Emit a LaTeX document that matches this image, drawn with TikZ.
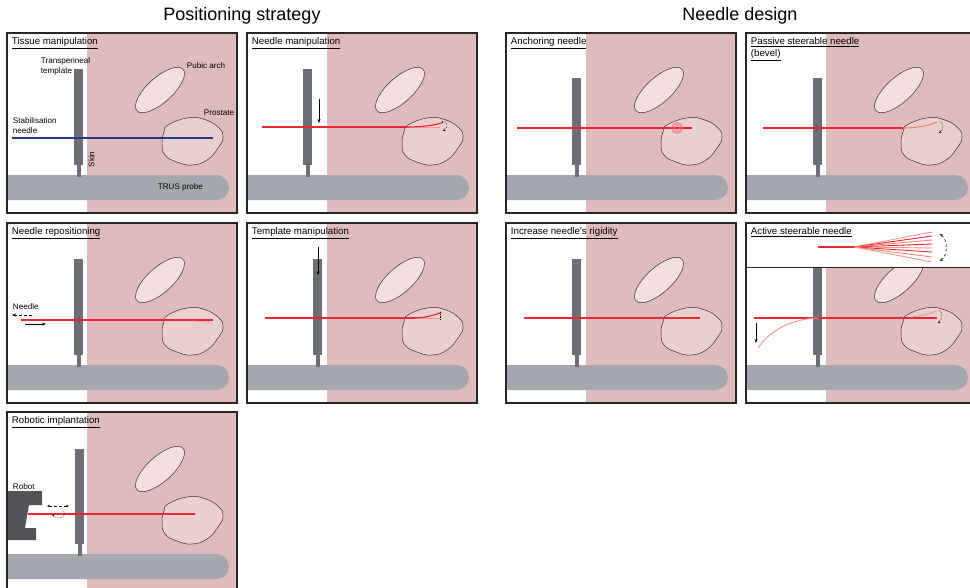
\documentclass[tikz,border=0pt]{standalone}
\usepackage{fontspec}
\setmainfont{Liberation Sans}
\usetikzlibrary{arrows.meta}

\definecolor{tissue}{RGB}{224,187,187}
\definecolor{prostpink}{RGB}{235,206,206}
\definecolor{archpink}{RGB}{243,223,223}
\definecolor{tplgrey}{RGB}{108,111,118}
\definecolor{probegrey}{RGB}{164,168,174}
\definecolor{robotgrey}{RGB}{82,82,88}
\definecolor{needlered}{RGB}{234,38,48}
\definecolor{needlelight}{RGB}{242,150,150}
\definecolor{bevelorange}{RGB}{242,135,105}
\definecolor{stabblue}{RGB}{38,56,140}

\tikzset{
  organ/.style={draw=black!80, line width=0.5pt},
  needle/.style={draw=needlered, line width=1.1pt},
  frame/.style={draw=black!85, line width=1.2pt},
  lbl/.style={font=\fontsize{8.1}{10}\selectfont, inner sep=0.75pt},
  paneltitle/.style={font=\fontsize{9.7}{11.5}\selectfont, inner sep=0.75pt, anchor=north west, align=left},
  heading/.style={font=\fontsize{18}{20}\selectfont, inner sep=0pt},
  motion/.style={draw=black, line width=0.6pt, -{Stealth[length=4pt,width=3pt]}},
  twist/.style={draw=black, line width=0.5pt, densely dotted, -{Stealth[length=2.5pt,width=2.2pt]}},
}

% tissue, organs, probe and template of one panel; #1,#2 = template corner
\newcommand{\scenebase}[2]{%
  \fill[tissue] (80,0) rectangle (230,180);
  \draw[organ, fill=archpink, rotate around={-42:(153,57)}] (153,57) ellipse [x radius=31, y radius=12.5];
  \draw[organ, fill=prostpink] plot[smooth cycle, tension=0.8] coordinates {(161,92) (180,85) (196,86) (211,94) (216,104) (211,115) (200,127) (185,132) (170,129) (158,122) (155,110) (157,99)};
  \fill[probegrey] (0,142) -- (209.5,142) arc[start angle=-90, end angle=90, radius=12.5] -- (0,167) -- cycle;
  \fill[tplgrey] (#1,#2) rectangle ({#1+9},132);
  \fill[tplgrey] ({#1+2.5},131) rectangle ({#1+6.5},144);
}

\begin{document}
\begin{tikzpicture}[x=1pt,y=1pt,yscale=-1,xscale=1]
\useasboundingbox (0,0) rectangle (970,587);
\clip (0,0) rectangle (970,587);

% Text Node
\draw (242,16) node [heading] (hpos) {Positioning strategy};
% Text Node
\draw (740,16) node [heading] (hdesign) {Needle design};

%Panel: tissue manipulation
\begin{scope}[shift={(7,33)}]
\scenebase{67}{36}
%Straight Lines
\draw [draw=stabblue, line width=1.3pt] (5,105) -- (206,105) ;
% Text Node
\draw (4,4) node [paneltitle] (tA) {\underline{Tissue manipulation}};
% Text Node
\draw (33,24) node [lbl, anchor=north west, align=left] (template) {Transperineal\\template};
% Text Node
\draw (179,33) node [lbl, anchor=west] (pubic) {Pubic arch};
% Text Node
\draw (196,80) node [lbl, anchor=west] (prostate) {Prostate};
% Text Node
\draw (5,84) node [lbl, anchor=north west, align=left] (stab) {Stabilisation\\needle};
% Text Node
\draw (84.5,126.5) node [lbl, rotate=90] (skin) {Skin};
% Text Node
\draw (150,154.5) node [lbl, anchor=west] (trus) {TRUS probe};
\draw [frame] (0,0) rectangle (230,180);
\end{scope}

%Panel: needle manipulation
\begin{scope}[shift={(247,33)}]
\scenebase{56}{36}
\draw [needle] (15,94) -- (160,94) ;
\draw [needle, draw=needlelight, line width=0.8pt] (160,94) -- (193,94) ;
\draw [needle] (158,94) .. controls (172,94) and (184,93) .. (195,90) ;
\fill (195.5,89) circle (0.9) ;
\draw [twist] (197,88) .. controls (201,91) and (201,95) .. (196,98) ;
\draw [motion] (72,66) -- (72,90) ;
% Text Node
\draw (4,4) node [paneltitle] (tB) {\underline{Needle manipulation}};
\draw [frame] (0,0) rectangle (230,180);
\end{scope}

%Panel: anchoring needle
\begin{scope}[shift={(506,33)}]
\scenebase{66}{45}
\draw [needle, line width=1.5pt] (11,95) -- (186,95) ;
\draw [draw=needlered!70, line width=0.5pt] (171,95) circle (5.5) circle (4) circle (2.5) ;
% Text Node
\draw (4,4) node [paneltitle] (tC) {\underline{Anchoring needle}};
\draw [frame] (0,0) rectangle (230,180);
\end{scope}

%Panel: passive steerable needle
\begin{scope}[shift={(746,33)}]
\scenebase{67}{45}
\draw [needle] (17,95) -- (159,95) ;
\draw [draw=bevelorange, line width=1.1pt] (157,95) .. controls (170,95) and (182,93) .. (191,89) ;
\draw [twist] (194,88) .. controls (198,91) and (198,96) .. (193,100) ;
% Text Node
\draw (4,4) node [paneltitle] (tD) {\underline{Passive steerable needle}\\\underline{(bevel)}};
\draw [frame] (0,0) rectangle (230,180);
\end{scope}

%Panel: needle repositioning
\begin{scope}[shift={(7,223)}]
\scenebase{67}{36}
\draw [needle] (14,97) -- (206,97) ;
\draw [draw=needlered!60, line width=0.8pt, densely dotted] (185,98) .. controls (193,98) and (200,99) .. (206,101) ;
\draw [motion, densely dashed] (25,92) -- (5,92) ;
\draw [motion] (18,101) -- (39,101) ;
% Text Node
\draw (5,84) node [lbl, anchor=west] (needleE) {Needle};
% Text Node
\draw (4,4) node [paneltitle] (tE) {\underline{Needle repositioning}};
\draw [frame] (0,0) rectangle (230,180);
\end{scope}

%Panel: template manipulation
\begin{scope}[shift={(247,223)}]
\scenebase{66}{36}
\draw [needle] (18,95) -- (170,95) ;
\draw [needle, draw=needlelight, line width=0.8pt] (168,95) -- (193,95) ;
\draw [needle] (165,95) .. controls (176,95) and (185,93) .. (193,90) ;
\fill (193.5,89.5) circle (0.9) ;
\draw [black, line width=0.5pt, densely dotted] (193.5,91) -- (193.5,97) ;
\draw [motion] (71,24) -- (71,52) ;
% Text Node
\draw (4,4) node [paneltitle] (tF) {\underline{Template manipulation}};
\draw [frame] (0,0) rectangle (230,180);
\end{scope}

%Panel: increase needle's rigidity
\begin{scope}[shift={(506,223)}]
\scenebase{66}{36}
\draw [needle, line width=2.2pt] (18,95) -- (194,95) ;
% Text Node
\draw (4,4) node [paneltitle] (tG) {\underline{Increase needle's rigidity}};
\draw [frame] (0,0) rectangle (230,180);
\end{scope}

%Panel: active steerable needle
\begin{scope}[shift={(746,223)}]
\scenebase{67}{36}
\draw [needle] (8,95) -- (191,95) ;
\draw [draw=needlelight, line width=0.9pt] (165,94) .. controls (175,93) and (183,91) .. (190,88) ;
\draw [twist] (193,87) .. controls (197,90) and (197,96) .. (192,100) ;
\draw [draw=needlelight, line width=1pt] (72,95) .. controls (42,96) and (22,110) .. (12,125) ;
\draw [motion] (10,100) -- (10,120) ;
%Shape: white strip with the tip sketch
\fill [white] (0,0) rectangle (230,44) ;
\draw [black!85, line width=1pt] (0,44) -- (230,44) ;
\draw [needle] (72,24) -- (122,24) ;
\foreach \ey/\col in {9/needlelight, 13/needlered, 17/bevelorange, 21/needlered, 25/needlelight, 29/needlered, 34/bevelorange, 39/needlelight}
  \draw [draw=\col, line width=0.9pt] (108,24) -- (186,\ey) ;
\draw [black, line width=0.5pt, densely dashed, {Stealth[length=3pt,width=2.5pt]}-{Stealth[length=3pt,width=2.5pt]}] (194,11) .. controls (202,17) and (202,32) .. (194,38) ;
% Text Node
\draw (4,4) node [paneltitle] (tH) {\underline{Active steerable needle}};
\draw [frame] (0,0) rectangle (230,180);
\end{scope}

%Panel: robotic implantation
\begin{scope}[shift={(7,412)}]
\scenebase{68}{37}
%Shape: robot arm
\fill [robotgrey] (1,79) -- (35,79) -- (35,93) -- (22,93) -- (18,116) -- (29,116) -- (29,128) -- (1,128) -- cycle ;
\draw [needle, line width=1.4pt] (21,102) -- (188,102) ;
\draw [black, line width=0.5pt, densely dashed, {Stealth[length=3pt,width=2.5pt]}-{Stealth[length=3pt,width=2.5pt]}] (40,94) -- (62,94) ;
\draw [twist] (55,98) .. controls (59,100) and (58,106) .. (52,106) .. controls (48,106) and (46,104) .. (47,102) ;
% Text Node
\draw (5,75) node [lbl, anchor=west] (robot) {Robot};
% Text Node
\draw (4,4) node [paneltitle] (tI) {\underline{Robotic implantation}};
\draw [frame] (0,0) rectangle (230,180);
\end{scope}

\end{tikzpicture}
\end{document}
